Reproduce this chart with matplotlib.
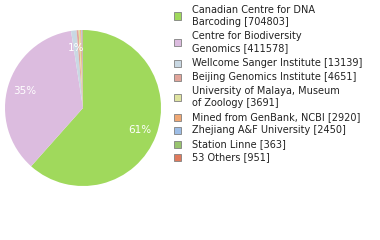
import math
import matplotlib
matplotlib.use("Agg")
import matplotlib.pyplot as plt
from matplotlib.patches import Rectangle

labels = ["Canadian Centre for DNA\nBarcoding [704803]",
          "Centre for Biodiversity\nGenomics [411578]",
          "Wellcome Sanger Institute [13139]",
          "Beijing Genomics Institute [4651]",
          "University of Malaya, Museum\nof Zoology [3691]",
          "Mined from GenBank, NCBI [2920]",
          "Zhejiang A&F University [2450]",
          "Station Linne [363]",
          "53 Others [951]"]
values = [704803, 411578, 13139, 4651, 3691, 2920, 2450, 363, 951]
colors = ["#a0d95c", "#dcbcdf", "#c9d8e3", "#e2a59a", "#dfe3a0",
          "#f0a874", "#9dbde6", "#98c46e", "#e07a5c"]

W, H = 380, 240
fig = plt.figure(figsize=(W / 100, H / 100), dpi=100)

# pie centre ~ (83,108) px, radius ~78 px
cx, cy, r = 83, 108, 78
ax = fig.add_axes([(cx - r) / W, (H - cy - r) / H, 2 * r / W, 2 * r / H])


def pct_label(p):
    # percentages are truncated, small slices unlabelled
    return f"{math.floor(p)}%" if p >= 1 else ""


wedges, texts, autotexts = ax.pie(values, colors=colors, startangle=90,
                                  counterclock=False, autopct=pct_label,
                                  pctdistance=0.78, radius=1,
                                  wedgeprops=dict(linewidth=0))
for t in autotexts:
    t.set_color("white")
    t.set_fontsize(7.5)
ax.set_xlim(-1, 1)
ax.set_ylim(-1, 1)
ax.set_aspect("equal")
ax.axis("off")

# legend drawn by hand
ys = [16, 42, 63, 77, 97, 117, 130, 144, 157]
for lab, col, y in zip(labels, colors, ys):
    fig.patches.append(Rectangle((174 / W, (H - y - 3.5) / H), 7 / W, 7 / H,
                                 transform=fig.transFigure, facecolor=col,
                                 edgecolor="#808080", linewidth=0.6))
    fig.text(192 / W, (H - y) / H, lab, fontsize=7, va="center", ha="left",
             color="#222222", linespacing=1.25)

fig.savefig("out.png", dpi=100)
